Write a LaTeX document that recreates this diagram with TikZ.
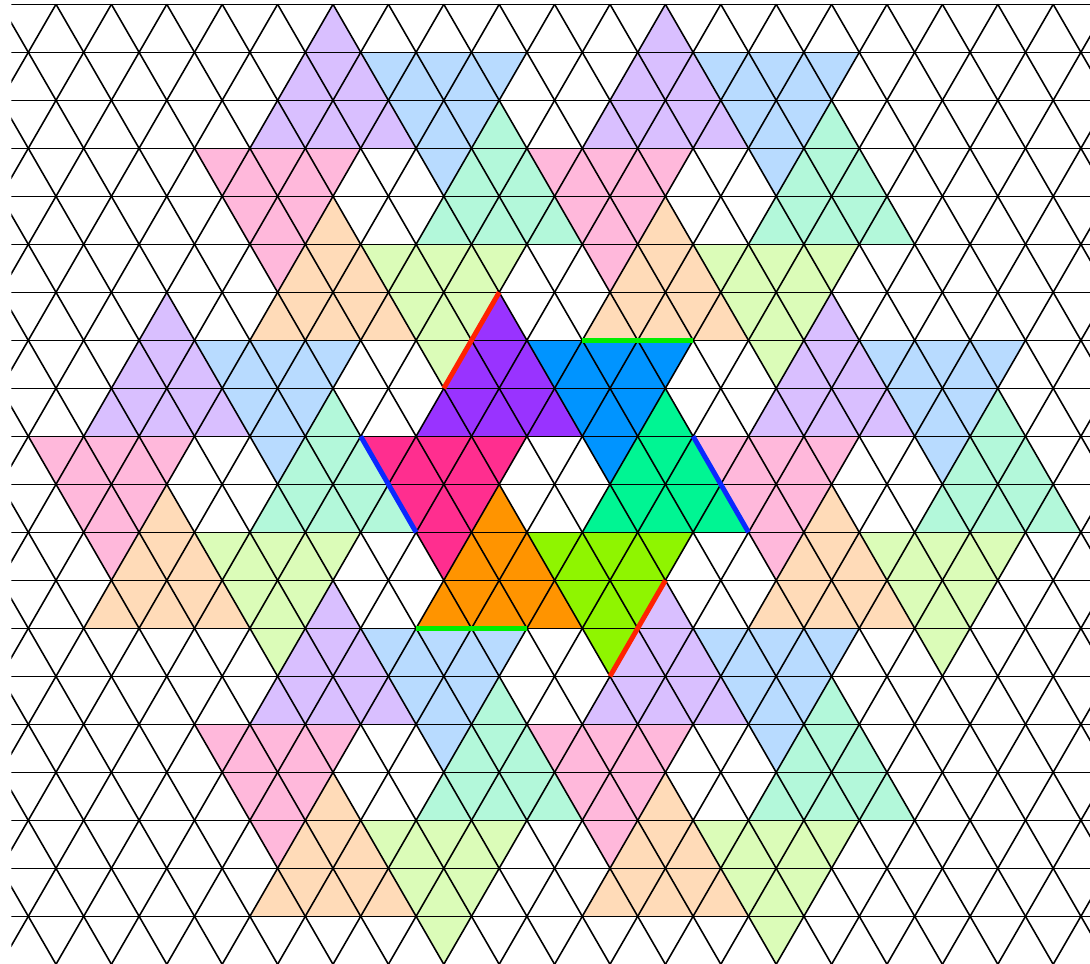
\documentclass[tikz,border=0pt]{standalone}
\definecolor{cP}{HTML}{9933FF}
\definecolor{cB}{HTML}{0094FF}
\definecolor{cT}{HTML}{00F593}
\definecolor{cK}{HTML}{FF2E8F}
\definecolor{cO}{HTML}{FF9400}
\definecolor{cL}{HTML}{8FF500}
\definecolor{pP}{HTML}{D9BFFF}
\definecolor{pB}{HTML}{B8DBFF}
\definecolor{pT}{HTML}{B3F8DA}
\definecolor{pK}{HTML}{FFB8DB}
\definecolor{pO}{HTML}{FFDBB8}
\definecolor{pL}{HTML}{DBFCB8}
\definecolor{edgered}{HTML}{FF2200}
\definecolor{edgegreen}{HTML}{00EE00}
\definecolor{edgeblue}{HTML}{0A28FF}
\tikzset{
  gridline/.style={black, line width=0.9pt},
  markedge/.style={line width=2.8pt},
}
\newcommand\trigroup[6]{%
  \fill[#1] (18,6) -- (15,9) -- (21,9) -- cycle;
  \fill[#2] (19,7) -- (25,7) -- (22,10) -- cycle;
  \fill[#3] (24,8) -- (21,11) -- (27,11) -- cycle;
  \fill[#4] (13,9) -- (19,9) -- (16,12) -- cycle;
  \fill[#5] (18,10) -- (15,13) -- (21,13) -- cycle;
  \fill[#6] (19,11) -- (25,11) -- (22,14) -- cycle;
}
\begin{document}
\begin{tikzpicture}[x=0.554cm,y=-0.96cm]
\useasboundingbox (-0.02166,-0.0896) rectangle (39.329,19.99);
\fill[white] (-0.02166,-0.0896) rectangle (39.329,19.99);
% pastel copies
\foreach \da/\dj in {-6/-6,6/-6,-12/0,12/0,-6/6,6/6}{
  \begin{scope}[shift={(\da,\dj)}]
    \trigroup{pP}{pB}{pT}{pK}{pO}{pL}
  \end{scope}
}
% saturated centre
\trigroup{cP}{cB}{cT}{cK}{cO}{cL}
% triangular grid
\begin{scope}
  \clip (0.386,-0.05) rectangle (39.6,20.05);
  \foreach \j in {0,...,20}{\draw[gridline] (0,\j) -- (40,\j);}
  \foreach \a in {-20,-18,...,60}{
    \draw[gridline] (\a,0) -- (\a+20,20);
    \draw[gridline] (\a,0) -- (\a-20,20);
  }
\end{scope}
% identified edges
\draw[markedge, edgered] (16,8) -- (18,6);
\draw[markedge, edgered] (22,14) -- (24,12);
\draw[markedge, edgegreen] (21,7) -- (25,7);
\draw[markedge, edgegreen] (15,13) -- (19,13);
\draw[markedge, edgeblue] (13,9) -- (15,11);
\draw[markedge, edgeblue] (25,9) -- (27,11);
\end{tikzpicture}
\end{document}
